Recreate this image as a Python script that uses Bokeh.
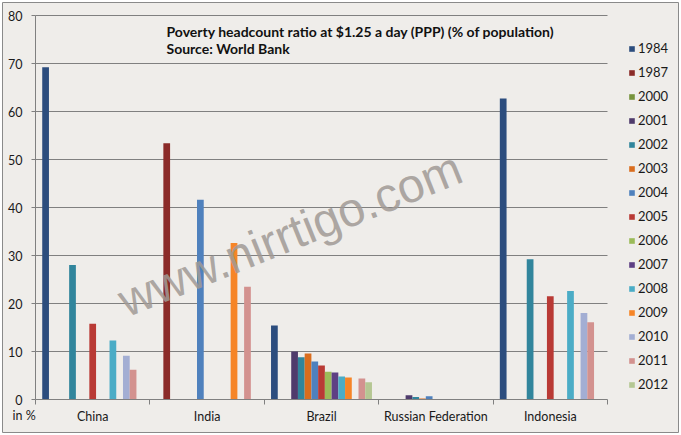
from bokeh.plotting import figure
from bokeh.models import (ColumnDataSource, Range1d, FixedTicker, Legend, LegendItem, Label)
from bokeh.embed import file_html
from bokeh.resources import INLINE

categories = ["China", "India", "Brazil", "Russian Federation", "Indonesia"]
years = ["1984", "1987", "2000", "2001", "2002", "2003", "2004", "2005",
         "2006", "2007", "2008", "2009", "2010", "2011", "2012"]

v1984 = [69.2, None, 15.4, None, 62.7]
v1987 = [None, 53.4, None, None, None]
v2000 = [None, None, None, None, None]
v2001 = [None, None, 10.0, 0.9, None]
v2002 = [28.0, None, 8.8, 0.5, 29.2]
v2003 = [None, None, 9.6, 0.2, None]
v2004 = [None, 41.6, 7.9, 0.7, None]
v2005 = [15.8, None, 7.1, None, 21.5]
v2006 = [None, None, 5.8, None, None]
v2007 = [None, None, 5.6, None, None]
v2008 = [12.3, None, 4.8, None, 22.6]
v2009 = [None, 32.6, 4.6, None, None]
v2010 = [9.1, None, None, None, 18.0]
v2011 = [6.2, 23.5, 4.4, None, 16.1]
v2012 = [None, None, 3.6, None, None]

series = [v1984, v1987, v2000, v2001, v2002, v2003, v2004, v2005,
          v2006, v2007, v2008, v2009, v2010, v2011, v2012]

y_ticks = [0, 10, 20, 30, 40, 50, 60, 70, 80]

colors = ["#2C4D7E", "#8B2B29", "#77933C", "#4F3B6C", "#31859C", "#DA6D1E",
          "#4F81BD", "#B93A35", "#9BBB59", "#5E3F84", "#4BACC6", "#F68527",
          "#A3AED3", "#D3928F", "#B5C793"]

title_line1 = "Poverty headcount ratio at $1.25  a day (PPP) (% of population)"
title_line2 = "Source: World Bank"
unit_label = "in %"
watermark = "www.nirrtigo.com"

BG = "#EFEDEA"
GRID = "#808080"
FONT = "Lato"
TXT = "#1a1a1a"

# page geometry (pixels)
W, H = 680, 434
B = 2                       # outer border inset
PL, PR, PT, PB = 35, 607, 15, 399   # plot area
ncat = len(categories)
ymax = y_ticks[-1]
FL, FR, FT, FB = B, W - B, B, H - B  # frame edges
xu = (PR - PL) / ncat
yu = (PB - PT) / ymax
x_range = Range1d(-(PL - FL) / xu, ncat + (FR - PR) / xu)
y_range = Range1d(-(FB - PB) / yu, ymax + (PT - FT) / yu)


def sx(px):
    return px - FL


def sy(py):
    return FB - py


p = figure(width=W, height=H, output_backend="svg", toolbar_location=None,
           x_range=x_range, y_range=y_range,
           min_border_left=B, min_border_right=B, min_border_top=B, min_border_bottom=B)
p.background_fill_color = BG
p.border_fill_color = "white"
p.outline_line_color = "#8a8a8a"
p.outline_line_width = 1

nser = len(years)
slots = nser + 2
w = 1.0 / slots
items = []
for i, (yr, vals, col) in enumerate(zip(years, series, colors)):
    xs = [ci + (i + 1.5) / slots for ci in range(ncat)]
    tops = [float("nan") if v is None else v for v in vals]
    src = ColumnDataSource(dict(x=xs, top=tops))
    r = p.vbar(x="x", top="top", width=w, source=src, fill_color=col, line_color=None)
    items.append(LegendItem(label=yr, renderers=[r]))

# y axis
yax = p.yaxis[0]
yax.fixed_location = 0
yax.bounds = (0, ymax)
yax.ticker = FixedTicker(ticks=y_ticks)
yax.axis_line_color = GRID
yax.major_tick_line_color = GRID
yax.major_tick_out = 4
yax.major_tick_in = 0
yax.minor_tick_line_color = None
yax.major_label_standoff = 9
yax.major_label_text_font = FONT
yax.major_label_text_font_size = "12.5px"
yax.major_label_text_color = TXT

# x axis
xax = p.xaxis[0]
xax.fixed_location = 0
xax.bounds = (0, ncat)
centers = [i + 0.5 for i in range(ncat)]
xax.ticker = FixedTicker(ticks=centers, minor_ticks=list(range(ncat + 1)))
xax.major_label_overrides = {c: n for c, n in zip(centers, categories)}
xax.axis_line_color = GRID
xax.major_tick_line_color = None
xax.major_tick_out = 0
xax.major_tick_in = 0
xax.minor_tick_line_color = GRID
xax.minor_tick_out = 5
xax.minor_tick_in = 0
xax.major_label_standoff = 4
xax.major_label_text_font = FONT
xax.major_label_text_font_size = "12.5px"
xax.major_label_text_color = TXT

p.xgrid.grid_line_color = None
yg = p.ygrid[0]
yg.ticker = FixedTicker(ticks=y_ticks[1:])
yg.grid_line_color = GRID
yg.grid_line_width = 1
if "cross_bounds" in yg.properties():
    yg.cross_bounds = (0, ncat)
else:
    yg.grid_line_color = None
    p.segment(x0=[0] * (len(y_ticks) - 1), x1=[ncat] * (len(y_ticks) - 1),
              y0=y_ticks[1:], y1=y_ticks[1:], line_color=GRID, line_width=1, level="underlay")

legend = Legend(items=items, location=(sx(628), sy(392)), orientation="vertical",
                padding=0, margin=0, spacing=8, label_height=16,
                glyph_height=7, glyph_width=7, label_standoff=3,
                background_fill_alpha=0, border_line_color=None,
                label_text_font=FONT, label_text_font_size="13px",
                label_text_color=TXT)
p.add_layout(legend, "center")

p.add_layout(Label(x=sx(166), y=sy(22.5), x_units="screen", y_units="screen", text=title_line1,
                   text_font=FONT, text_font_style="bold", text_font_size="14px",
                   text_baseline="top", text_color="#111111"))
p.add_layout(Label(x=sx(166), y=sy(39), x_units="screen", y_units="screen", text=title_line2,
                   text_font=FONT, text_font_style="bold", text_font_size="14px",
                   text_baseline="top", text_color="#111111"))
p.add_layout(Label(x=sx(12), y=sy(415), x_units="screen", y_units="screen", text=unit_label,
                   text_font=FONT, text_font_size="12.5px", text_baseline="middle",
                   text_color=TXT))
p.add_layout(Label(x=sx(120), y=sy(302), x_units="screen", y_units="screen", text=watermark,
                   angle=22, angle_units="deg", text_font="Liberation Sans",
                   text_font_size="48px", text_color="#a09a95", text_alpha=0.85,
                   text_baseline="alphabetic"))

open("out.html", "w").write(file_html(p, INLINE))
